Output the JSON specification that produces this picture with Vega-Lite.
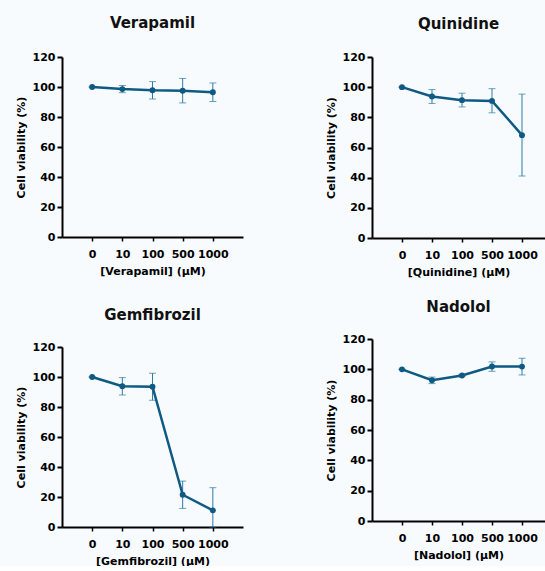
{
  "$schema": "https://vega.github.io/schema/vega-lite/v6.json",
  "background": "#f7fbfe",
  "padding": {"left": 15, "top": 16, "right": 0, "bottom": 0},
  "config": {
    "font": "DejaVu Sans",
    "view": {"stroke": null},
    "title": {"font": "DejaVu Sans", "fontSize": 15, "fontWeight": "bold", "color": "#111", "frame": "group", "anchor": "middle", "offset": 20},
    "axis": {"domainColor": "#000", "domainWidth": 2, "tickColor": "#000", "tickWidth": 2, "tickSize": 5, "labelFont": "DejaVu Sans", "labelFontWeight": "bold", "labelColor": "#000", "titleFont": "DejaVu Sans", "titleFontWeight": "bold", "titleColor": "#000", "grid": false, "labelFontSize": 11, "titleFontSize": 11},
    "axisY": {"titlePadding": 6, "labelPadding": 2},
    "axisX": {"tickSize": 4, "tickWidth": 1.5, "labelPadding": 7, "labelAngle": 0, "labelOverlap": false, "titlePadding": 6}
  },
  "datasets": {
    "viab": [
      {"drug": "Verapamil", "conc": "0", "mean": 100, "lo": 100, "hi": 100},
      {"drug": "Verapamil", "conc": "10", "mean": 98.6, "lo": 96.2, "hi": 101},
      {"drug": "Verapamil", "conc": "100", "mean": 97.8, "lo": 92, "hi": 103.6},
      {"drug": "Verapamil", "conc": "500", "mean": 97.5, "lo": 89.4, "hi": 105.7},
      {"drug": "Verapamil", "conc": "1000", "mean": 96.5, "lo": 90.3, "hi": 102.7},
      {"drug": "Quinidine", "conc": "0", "mean": 100, "lo": 100, "hi": 100},
      {"drug": "Quinidine", "conc": "10", "mean": 93.8, "lo": 89.2, "hi": 98.4},
      {"drug": "Quinidine", "conc": "100", "mean": 91.4, "lo": 86.9, "hi": 96},
      {"drug": "Quinidine", "conc": "500", "mean": 90.9, "lo": 83, "hi": 99},
      {"drug": "Quinidine", "conc": "1000", "mean": 68.2, "lo": 41.1, "hi": 95.4},
      {"drug": "Gemfibrozil", "conc": "0", "mean": 100, "lo": 100, "hi": 100},
      {"drug": "Gemfibrozil", "conc": "10", "mean": 93.8, "lo": 88, "hi": 99.6},
      {"drug": "Gemfibrozil", "conc": "100", "mean": 93.5, "lo": 84.5, "hi": 102.5},
      {"drug": "Gemfibrozil", "conc": "500", "mean": 21.5, "lo": 12.4, "hi": 30.6},
      {"drug": "Gemfibrozil", "conc": "1000", "mean": 11.1, "lo": 0, "hi": 26.2},
      {"drug": "Nadolol", "conc": "0", "mean": 100, "lo": 100, "hi": 100},
      {"drug": "Nadolol", "conc": "10", "mean": 92.8, "lo": 90.6, "hi": 94.9},
      {"drug": "Nadolol", "conc": "100", "mean": 95.9, "lo": 95.2, "hi": 96.6},
      {"drug": "Nadolol", "conc": "500", "mean": 101.9, "lo": 98.7, "hi": 104.9},
      {"drug": "Nadolol", "conc": "1000", "mean": 101.8, "lo": 96.3, "hi": 107.3}
    ]
  },
  "spacing": 82,
  "hconcat": [
    {
      "spacing": 32,
      "vconcat": [
        {
          "title": "Verapamil",
          "width": 181, "height": 180,
          "data": {"name": "viab"},
          "transform": [{"filter": "datum.drug === 'Verapamil'"}],
          "encoding": {
            "x": {"field": "conc", "type": "ordinal", "sort": ["0", "10", "100", "500", "1000"], "scale": {"type": "point", "padding": 1}, "axis": {"title": "[Verapamil] (μM)"}}
          },
          "layer": [
            {"mark": {"type": "rule", "color": "#2f7ba4", "strokeWidth": 1}, "encoding": {"y": {"field": "lo", "type": "quantitative", "scale": {"domain": [0, 120]}, "axis": {"title": "Cell viability (%)", "values": [0, 20, 40, 60, 80, 100, 120]}}, "y2": {"field": "hi"}}},
            {"mark": {"type": "tick", "color": "#2f7ba4", "size": 7, "thickness": 1}, "encoding": {"y": {"field": "lo", "type": "quantitative", "scale": {"domain": [0, 120]}, "axis": {"title": "Cell viability (%)", "values": [0, 20, 40, 60, 80, 100, 120]}}}},
            {"mark": {"type": "tick", "color": "#2f7ba4", "size": 7, "thickness": 1}, "encoding": {"y": {"field": "hi", "type": "quantitative", "scale": {"domain": [0, 120]}, "axis": {"title": "Cell viability (%)", "values": [0, 20, 40, 60, 80, 100, 120]}}}},
            {"mark": {"type": "line", "color": "#0e5a82", "strokeWidth": 2.5, "point": {"filled": true, "size": 35, "color": "#0e5a82"}}, "encoding": {"y": {"field": "mean", "type": "quantitative", "scale": {"domain": [0, 120]}, "axis": {"title": "Cell viability (%)", "values": [0, 20, 40, 60, 80, 100, 120]}}}}
          ]
        },
        {
          "title": {"text": "Gemfibrozil", "offset": 18},
          "width": 181, "height": 180,
          "data": {"name": "viab"},
          "transform": [{"filter": "datum.drug === 'Gemfibrozil'"}],
          "encoding": {
            "x": {"field": "conc", "type": "ordinal", "sort": ["0", "10", "100", "500", "1000"], "scale": {"type": "point", "padding": 1}, "axis": {"title": "[Gemfibrozil] (μM)"}}
          },
          "layer": [
            {"mark": {"type": "rule", "color": "#2f7ba4", "strokeWidth": 1}, "encoding": {"y": {"field": "lo", "type": "quantitative", "scale": {"domain": [0, 120]}, "axis": {"title": "Cell viability (%)", "values": [0, 20, 40, 60, 80, 100, 120]}}, "y2": {"field": "hi"}}},
            {"mark": {"type": "tick", "color": "#2f7ba4", "size": 7, "thickness": 1}, "encoding": {"y": {"field": "lo", "type": "quantitative", "scale": {"domain": [0, 120]}, "axis": {"title": "Cell viability (%)", "values": [0, 20, 40, 60, 80, 100, 120]}}}},
            {"mark": {"type": "tick", "color": "#2f7ba4", "size": 7, "thickness": 1}, "encoding": {"y": {"field": "hi", "type": "quantitative", "scale": {"domain": [0, 120]}, "axis": {"title": "Cell viability (%)", "values": [0, 20, 40, 60, 80, 100, 120]}}}},
            {"mark": {"type": "line", "color": "#0e5a82", "strokeWidth": 2.5, "point": {"filled": true, "size": 35, "color": "#0e5a82"}}, "encoding": {"y": {"field": "mean", "type": "quantitative", "scale": {"domain": [0, 120]}, "axis": {"title": "Cell viability (%)", "values": [0, 20, 40, 60, 80, 100, 120]}}}}
          ]
        }
      ]
    },
    {
      "spacing": 23,
      "vconcat": [
        {
          "title": {"text": "Quinidine", "offset": 19},
          "width": 173, "height": 181,
          "data": {"name": "viab"},
          "transform": [{"filter": "datum.drug === 'Quinidine'"}],
          "encoding": {
            "x": {"field": "conc", "type": "ordinal", "sort": ["0", "10", "100", "500", "1000"], "scale": {"type": "point", "padding": 0.883, "align": 0.566}, "axis": {"title": "[Quinidine] (μM)"}}
          },
          "layer": [
            {"mark": {"type": "rule", "color": "#2f7ba4", "strokeWidth": 1}, "encoding": {"y": {"field": "lo", "type": "quantitative", "scale": {"domain": [0, 120]}, "axis": {"title": "Cell viability (%)", "values": [0, 20, 40, 60, 80, 100, 120]}}, "y2": {"field": "hi"}}},
            {"mark": {"type": "tick", "color": "#2f7ba4", "size": 7, "thickness": 1}, "encoding": {"y": {"field": "lo", "type": "quantitative", "scale": {"domain": [0, 120]}, "axis": {"title": "Cell viability (%)", "values": [0, 20, 40, 60, 80, 100, 120]}}}},
            {"mark": {"type": "tick", "color": "#2f7ba4", "size": 7, "thickness": 1}, "encoding": {"y": {"field": "hi", "type": "quantitative", "scale": {"domain": [0, 120]}, "axis": {"title": "Cell viability (%)", "values": [0, 20, 40, 60, 80, 100, 120]}}}},
            {"mark": {"type": "line", "color": "#0e5a82", "strokeWidth": 2.5, "point": {"filled": true, "size": 35, "color": "#0e5a82"}}, "encoding": {"y": {"field": "mean", "type": "quantitative", "scale": {"domain": [0, 120]}, "axis": {"title": "Cell viability (%)", "values": [0, 20, 40, 60, 80, 100, 120]}}}}
          ]
        },
        {
          "title": {"text": "Nadolol", "offset": 18},
          "width": 173, "height": 182,
          "data": {"name": "viab"},
          "transform": [{"filter": "datum.drug === 'Nadolol'"}],
          "encoding": {
            "x": {"field": "conc", "type": "ordinal", "sort": ["0", "10", "100", "500", "1000"], "scale": {"type": "point", "padding": 0.883, "align": 0.566}, "axis": {"title": "[Nadolol] (μM)"}}
          },
          "layer": [
            {"mark": {"type": "rule", "color": "#2f7ba4", "strokeWidth": 1}, "encoding": {"y": {"field": "lo", "type": "quantitative", "scale": {"domain": [0, 120]}, "axis": {"title": "Cell viability (%)", "values": [0, 20, 40, 60, 80, 100, 120]}}, "y2": {"field": "hi"}}},
            {"mark": {"type": "tick", "color": "#2f7ba4", "size": 7, "thickness": 1}, "encoding": {"y": {"field": "lo", "type": "quantitative", "scale": {"domain": [0, 120]}, "axis": {"title": "Cell viability (%)", "values": [0, 20, 40, 60, 80, 100, 120]}}}},
            {"mark": {"type": "tick", "color": "#2f7ba4", "size": 7, "thickness": 1}, "encoding": {"y": {"field": "hi", "type": "quantitative", "scale": {"domain": [0, 120]}, "axis": {"title": "Cell viability (%)", "values": [0, 20, 40, 60, 80, 100, 120]}}}},
            {"mark": {"type": "line", "color": "#0e5a82", "strokeWidth": 2.5, "point": {"filled": true, "size": 35, "color": "#0e5a82"}}, "encoding": {"y": {"field": "mean", "type": "quantitative", "scale": {"domain": [0, 120]}, "axis": {"title": "Cell viability (%)", "values": [0, 20, 40, 60, 80, 100, 120]}}}}
          ]
        }
      ]
    }
  ]
}
